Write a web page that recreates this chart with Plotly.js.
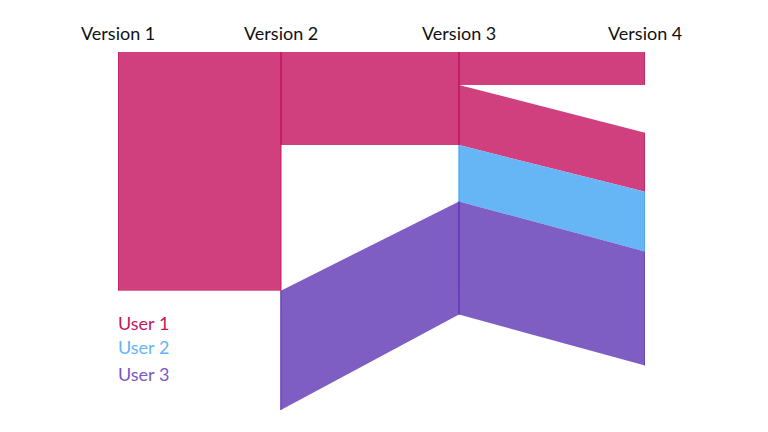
<!DOCTYPE html>
<html>
<head>
<meta charset="utf-8">
<script src="https://cdn.plot.ly/plotly-3.0.1.min.js"></script>
<style>html,body{margin:0;padding:0;background:#fff;}#chart{width:768px;height:432px;}</style>
</head>
<body>
<div id="chart"></div>
<script>
// Versions and their horizontal positions (release timeline, relative units)
const versions = ["Version 1", "Version 2", "Version 3", "Version 4"];
const versionPos = [0, 30.9, 64.7, 100];

const users = ["User 1", "User 2", "User 3"];
const fillColors = ["#d1407e", "#66b6f6", "#7e5ec2"];
const edgeColors = ["#c2185b", "#42a5f5", "#673ab7"];
const textColors = ["#c2185b", "#64b5f6", "#7e57c2"];

// Each flow: from version index, to version index,
// [top, bottom] of the band at the left version, [top, bottom] at the right version
const user1From  = [0, 1, 2, 2];
const user1To    = [1, 2, 3, 3];
const user1Left  = [[0, 100], [0, 39], [0, 13.8], [13.8, 39]];
const user1Right = [[0, 100], [0, 39], [0, 13.8], [33.8, 58.6]];

const user2From  = [2];
const user2To    = [3];
const user2Left  = [[39, 62.6]];
const user2Right = [[58.6, 83.6]];

const user3From  = [1, 2];
const user3To    = [2, 3];
const user3Left  = [[100, 150], [62.6, 110]];
const user3Right = [[62.6, 110], [83.6, 131.4]];

const flows = [
  {from: user1From, to: user1To, left: user1Left, right: user1Right},
  {from: user2From, to: user2To, left: user2Left, right: user2Right},
  {from: user3From, to: user3To, left: user3Left, right: user3Right}
];

const traces = [];
flows.forEach((f, u) => {
  f.from.forEach((fi, k) => {
    const xL = versionPos[fi], xR = versionPos[f.to[k]];
    const L = f.left[k], R = f.right[k];
    traces.push({
      type: "scatter", mode: "lines",
      x: [xL, xR, xR, xL, xL],
      y: [L[0], R[0], R[1], L[1], L[0]],
      fill: "toself", fillcolor: fillColors[u],
      line: {width: 0, color: fillColors[u]},
      hoverinfo: "skip", showlegend: false
    });
  });
});
flows.forEach((f, u) => {
  f.from.forEach((fi, k) => {
    const xL = versionPos[fi], xR = versionPos[f.to[k]];
    const L = f.left[k], R = f.right[k];
    traces.push({
      type: "scatter", mode: "lines",
      x: [xL, xL, null, xR, xR],
      y: [L[0], L[1], null, R[0], R[1]],
      line: {width: 1.5, color: edgeColors[u]},
      opacity: 0.8,
      hoverinfo: "skip", showlegend: false
    });
  });
});

const annotations = [];
versions.forEach((v, i) => {
  annotations.push({
    x: versionPos[i], xref: "x", y: 1, yref: "paper",
    yanchor: "bottom", xanchor: "center", yshift: 6,
    text: v, showarrow: false,
    font: {family: "Lato", size: 18, color: "#111"}
  });
});
const legendY = [113.4, 123.8, 135.1];
users.forEach((name, i) => {
  annotations.push({
    x: versionPos[0], xref: "x", y: legendY[i], yref: "y",
    xanchor: "left", yanchor: "middle", xshift: -2,
    text: name, showarrow: false,
    font: {family: "Lato", size: 18, color: textColors[i]}
  });
});

const layout = {
  width: 768, height: 432,
  margin: {l: 118, r: 123, t: 52, b: 21.5},
  paper_bgcolor: "#fff", plot_bgcolor: "#fff",
  xaxis: {range: [0, 100], visible: false, fixedrange: true},
  yaxis: {range: [150, 0], visible: false, fixedrange: true},
  showlegend: false,
  annotations: annotations,
  hovermode: false
};

Plotly.newPlot("chart", traces, layout, {displayModeBar: false, staticPlot: true});
</script>
</body>
</html>
